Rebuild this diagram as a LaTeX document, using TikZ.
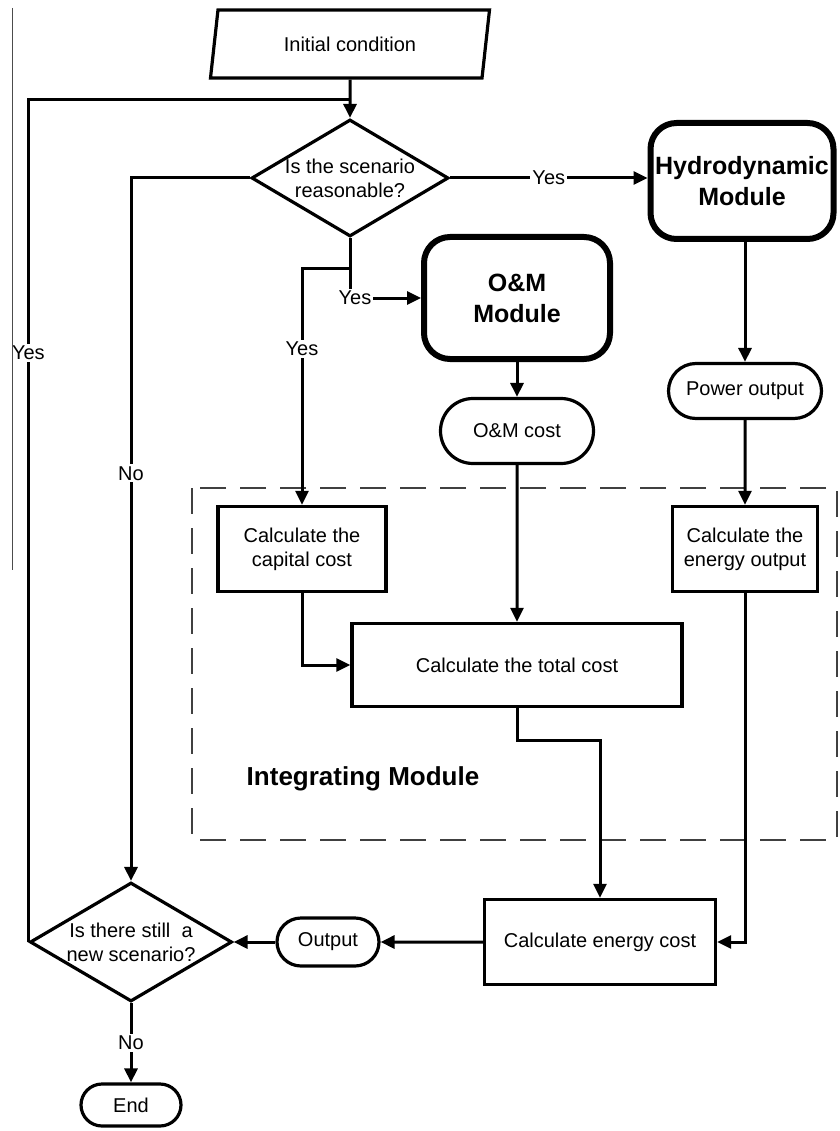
\documentclass[tikz,border=0pt]{standalone}
\usepackage{fontspec}
\setmainfont{Liberation Sans}
\usetikzlibrary{shapes.geometric, shapes.misc, arrows.meta}

\begin{document}
\begin{tikzpicture}[
    x=1pt, y=-1pt,
    base/.style={font=\fontsize{20}{24}\selectfont, align=center, inner sep=0pt},
    io/.style={base, draw, line width=3.2pt, trapezium, trapezium left angle=63, trapezium right angle=117, trapezium stretches body, minimum width=279pt, minimum height=68pt},
    dec/.style={base, draw, diamond, line width=3.2pt, minimum width=197pt, minimum height=117pt},
    proc/.style={base, draw, rectangle, line width=3.4pt},
    term/.style={base, draw, rounded rectangle, line width=3.2pt},
    mod/.style={draw, rectangle, rounded corners=26pt, line width=6pt, inner sep=0pt, align=center, font=\fontsize{25}{31}\selectfont\bfseries},
    arrow/.style={-{Triangle[length=14pt, width=13pt]}, line width=3pt},
    line/.style={line width=3pt},
    lbl/.style={base, fill=white, inner sep=2pt}
]
    \useasboundingbox (0,0) rectangle (839,1131);

    \draw[black!75, line width=2.2pt, dash pattern=on 26pt off 14pt] (192,488) rectangle (837,840);

    \node[io] (init) at (350,44) {Initial condition};
    \node[dec, label={[base]center:Is the scenario\\reasonable?}] (scen) at (350,178) {};
    \node[mod, minimum width=183pt, minimum height=116pt] (hydro) at (742,181) {Hydrodynamic\\Module};
    \node[mod, minimum width=186pt, minimum height=122pt] (om) at (517,298) {O\&M\\Module};
    \node[term, minimum width=153pt, minimum height=65pt] (omcost) at (517,431) {O\&M cost};
    \node[term, minimum width=153pt, minimum height=55pt] (power) at (745,391) {Power output};
    \node[proc, minimum width=168pt, minimum height=85pt] (capital) at (302,549) {Calculate the\\capital cost};
    \node[proc, minimum width=145pt, minimum height=85pt] (eout) at (745,549) {Calculate the\\energy output};
    \node[proc, minimum width=330pt, minimum height=83pt] (total) at (517,665) {Calculate the total cost};
    \node[font=\fontsize{26}{30}\selectfont\bfseries] (intlbl) at (363,779) {Integrating Module};
    \node[proc, minimum width=231pt, minimum height=85pt] (ecost) at (600,942) {Calculate energy cost};
    \node[term, minimum width=102pt, minimum height=48pt] (out) at (328,942) {Output};
    \node[dec, minimum width=202pt, minimum height=119pt, label={[base]center:Is there still\ \ a\\new scenario?}] (again) at (131,942) {};
    \node[term, minimum width=100pt, minimum height=42pt] (end) at (131,1105) {End};

    \coordinate (join) at (350,100);
    \coordinate (split) at (350,269);

    \draw[arrow] (init) -- (scen);
    \draw[line] (again.west) |- (join) node[pos=0.35, lbl] {Yes};
    \draw[arrow] (scen.west) -| (again.north) node[pos=0.71, lbl] {No};
    \draw[arrow] (scen.east) -- (scen.east -| hydro.west) node[midway, lbl] {Yes};
    \draw[arrow] (scen.south) |- (om.west) node[pos=0.5, lbl, xshift=5pt] {Yes};
    \draw[arrow] (split) -| (capital.north) node[pos=0.67, lbl] {Yes};
    \draw[arrow] (hydro.south -| power.north) -- (power.north);
    \draw[arrow] (power) -- (eout);
    \draw[arrow] (om) -- (omcost);
    \draw[arrow] (omcost) -- (total);
    \draw[arrow] (capital.south) |- (total.west);
    \draw[arrow] (total.south) -- ++(0,32) -| (ecost.north);
    \draw[arrow] (eout.south) |- (ecost.east);
    \draw[arrow] (ecost) -- (out);
    \draw[arrow] (out) -- (again);
    \draw[arrow] (again) -- (end) node[midway, lbl] {No};

    \draw[line width=0.8pt, black!70] (12,8) -- (12,570);
\end{tikzpicture}
\end{document}
